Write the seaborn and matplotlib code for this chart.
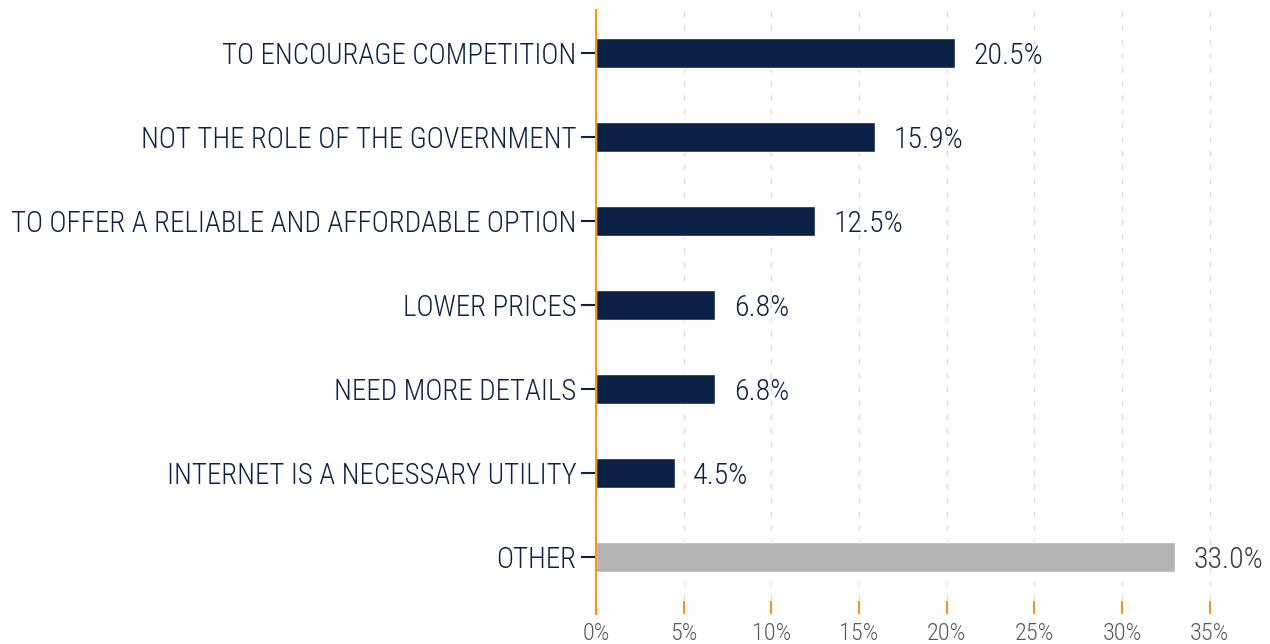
import matplotlib
matplotlib.use("Agg")
import matplotlib.pyplot as plt
import seaborn as sns
import pandas as pd
from matplotlib import font_manager

categories = [
    "TO ENCOURAGE COMPETITION",
    "NOT THE ROLE OF THE GOVERNMENT",
    "TO OFFER A RELIABLE AND AFFORDABLE OPTION",
    "LOWER PRICES",
    "NEED MORE DETAILS",
    "INTERNET IS A NECESSARY UTILITY",
    "OTHER",
]
values = [20.5, 15.9, 12.5, 6.8, 6.8, 4.5, 33.0]
x_ticks = [0, 5, 10, 15, 20, 25, 30, 35]

NAVY = "#0b2146"
GREY = "#b3b3b3"
ORANGE = "#f7931e"

sns.set_theme(style="white")
installed = {f.name for f in font_manager.fontManager.ttflist}
narrow = [n for n in ("Roboto Condensed", "Liberation Sans Narrow") if n in installed]
plt.rcParams["font.family"] = narrow + ["Roboto", "DejaVu Sans"]
plt.rcParams["font.weight"] = "light"
label_size = 20.8 if narrow else 17.5
value_size = 21.5 if narrow else 18.5
tick_size = 17.5 if narrow else 15

df = pd.DataFrame({"category": categories, "value": values})
palette = {c: (GREY if c == "OTHER" else NAVY) for c in categories}

fig = plt.figure(figsize=(12.7, 6.44), dpi=100)
ax = fig.add_axes([0.4693, 0.0466, 0.4874, 0.9379])

sns.barplot(data=df, x="value", y="category", hue="category", palette=palette,
            order=categories, width=0.36, legend=False, ax=ax, saturation=1)

ax.set_xlim(0, 35.3)
ax.set_ylim(6.68, -0.51)
ax.set_xlabel("")
ax.set_ylabel("")

ax.set_xticks(x_ticks)
ax.set_xticklabels([f"{t}%" for t in x_ticks])

for s in ("top", "right", "bottom"):
    ax.spines[s].set_visible(False)
ax.spines["left"].set_color(ORANGE)
ax.spines["left"].set_linewidth(1.5)

ax.xaxis.grid(True, color="#dcdcdc", linestyle=(0, (4, 6)), linewidth=1)
ax.set_axisbelow(True)

ax.tick_params(axis="x", direction="in", length=9.5, width=1.5, color=ORANGE,
               labelcolor="#595959", labelsize=tick_size, pad=6, bottom=True)
ax.tick_params(axis="y", direction="out", length=11, width=1.5, color=NAVY,
               labelcolor=NAVY, labelsize=label_size, pad=3, left=True)

for i, v in enumerate(values):
    ax.text(v + 1.05, i, f"{v:.1f}%", va="center_baseline", ha="left",
            fontsize=value_size,
            color="#3a3a3a" if categories[i] == "OTHER" else NAVY, clip_on=False)

fig.savefig("out.png", dpi=100)
